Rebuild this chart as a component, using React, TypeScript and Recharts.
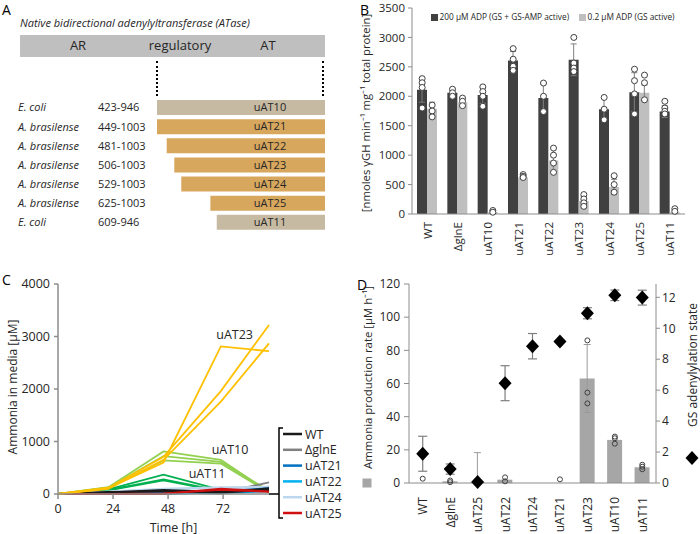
import React from "react";
import {
  BarChart,
  Bar,
  ComposedChart,
  LineChart,
  Line,
  XAxis,
  YAxis,
  ErrorBar,
  Cell,
  LabelList,
  Legend,
  ReferenceDot,
} from "recharts";

// ---------- A: truncated ATase constructs ----------
const constructs = ["uAT10", "uAT21", "uAT22", "uAT23", "uAT24", "uAT25", "uAT11"];
const hosts = ["E. coli", "A. brasilense", "A. brasilense", "A. brasilense", "A. brasilense", "A. brasilense", "E. coli"];
const resFrom = [423, 449, 481, 506, 529, 625, 609];
const resTo = [946, 1003, 1003, 1003, 1003, 1003, 946];
const domainsA = ["AR", "regulatory", "AT"];

// ---------- B: GS activity ----------
const strainsB = ["WT", "ΔglnE", "uAT10", "uAT21", "uAT22", "uAT23", "uAT24", "uAT25", "uAT11"];
const seriesB = ["200 µM ADP (GS + GS-AMP active)", "0.2 µM ADP (GS active)"];
const adp200 = [2110, 2060, 2020, 2610, 1970, 2620, 1780, 2070, 1740];
const adp200Err = [210, 50, 140, 150, 230, 270, 190, 330, 100];
const adp02 = [1790, 1900, 30, 620, 910, 220, 460, 2060, 30];
const adp02Err = [110, 70, 20, 20, 200, 80, 130, 130, 20];
const reps200 = [
  [2300, 2230, 2150, 1800],
  [2120, 2060, 2000],
  [2160, 2080, 2000, 1830],
  [2810, 2630, 2510, 2440],
  [2225, 2000, 1740],
  [3000, 2565, 2480, 2420],
  [1980, 1780, 1600],
  [2460, 2265, 2040, 1700],
  [1915, 1800, 1745, 1700],
];
const reps02 = [
  [1850, 1750, 1650],
  [1970, 1915, 1840],
  [60, 30],
  [670, 640, 620],
  [1120, 1000, 866, 708],
  [330, 255, 190, 130],
  [650, 500, 370],
  [2360, 2230, 1940],
  [90, 45],
];

// ---------- C: ammonia in media ----------
const timeH = [0, 22, 46, 71, 92];
const nh3WT = [[0, 30, 80, 40, 60], [0, 20, 60, 30, 110], [0, 40, 50, 20, 90]];
const nh3GlnE = [[0, 20, 40, 20, 220], [0, 30, 50, 40, 140], [0, 10, 30, 10, 130]];
const nh3AT21 = [[0, 20, 30, 50, 110], [0, 10, 20, 40, 80]];
const nh3AT22 = [[0, 10, 0, 30, 80], [0, 0, 10, 20, 50]];
const nh3AT24 = [[0, 50, 100, 130, 140], [0, 40, 90, 110, 120]];
const nh3AT25 = [[0, 0, 0, 100, 50], [0, 0, 10, 80, 40]];
const nh3AT11 = [[0, 90, 370, 80, 60], [0, 80, 280, 60, 90], [0, 70, 260, 50, 70]];
const nh3AT10 = [[0, 130, 810, 650, 40], [0, 120, 720, 610, 60], [0, 110, 640, 580, 30]];
const nh3AT23 = [[0, 110, 600, 2810, 2720], [0, 120, 710, 1960, 3220], [0, 100, 650, 1760, 2870]];
const legendC = ["WT", "ΔglnE", "uAT21", "uAT22", "uAT24", "uAT25"];

// ---------- D: production rate vs adenylylation ----------
const strainsD = ["WT", "ΔglnE", "uAT25", "uAT22", "uAT24", "uAT21", "uAT23", "uAT10", "uAT11"];
const nh3Rate = [0, 1, 0.3, 2, 0, 0, 63, 26, 9.5];
const nh3RateErr: any[] = [null, null, [0.3, 18], null, null, null, 20.5, null, null];
const nh3Reps = [[2.6], [0.5, 1.5], [], [1, 3.4], [], [2.2], [86, 54.5, 48], [28, 27, 23.7], [11, 9.8, 8.3]];
const adenState = [1.89, 0.9, 0.06, 6.45, 8.84, 9.14, 10.97, 12.13, 11.98];
const adenStateErr = [1.13, 0.33, null, 1.13, 0.82, null, 0.36, 0.34, 0.48];

const INK = "#262626";
const AXIS = "#8C8C8C";
const hostColor: Record<string, string> = { "E. coli": "#C6BAA2", "A. brasilense": "#D7A75E" };
const barColorsB = ["#404040", "#BFBFBF"];
const strainColor: Record<string, string> = {
  WT: "#1A1A1A",
  "ΔglnE": "#808080",
  uAT21: "#0070C0",
  uAT22: "#00B0F0",
  uAT24: "#BDD7EE",
  uAT25: "#D01010",
  uAT11: "#00B050",
  uAT10: "#92D050",
  uAT23: "#FFC000",
};
const seriesC: [string, number[][]][] = [
  ["uAT11", nh3AT11],
  ["uAT10", nh3AT10],
  ["ΔglnE", nh3GlnE],
  ["uAT24", nh3AT24],
  ["uAT21", nh3AT21],
  ["uAT22", nh3AT22],
  ["WT", nh3WT],
  ["uAT25", nh3AT25],
  ["uAT23", nh3AT23],
];

// ---------- rows ----------
const rowsA = constructs.map((name, i) => {
  const len = resTo[i] - resFrom[i];
  const ref = Math.max(...constructs.map((_, j) => (hosts[j] === hosts[i] ? resTo[j] - resFrom[j] : 0)));
  return { name, span: [1 - len / ref, 1] };
});

const rowsB = strainsB.map((name, i) => {
  const row: any = { name, hi: adp200[i], hiErr: adp200Err[i], lo: adp02[i], loErr: adp02Err[i] };
  reps200[i].forEach((v, k) => (row[`h${k}`] = v));
  reps02[i].forEach((v, k) => (row[`l${k}`] = v));
  return row;
});

const rowsC = timeH.map((t, ti) => {
  const row: any = { t };
  seriesC.forEach(([, reps], si) => reps.forEach((r, k) => (row[`s${si}r${k}`] = r[ti])));
  return row;
});

const rowsD = strainsD.map((name, i) => {
  const row: any = { name, rate: nh3Rate[i], rateErr: nh3RateErr[i], state: adenState[i], stateErr: adenStateErr[i] };
  nh3Reps[i].forEach((v, k) => (row[`r${k}`] = v));
  return row;
});

// ---------- small renderers ----------
const ok = (p: any) => typeof p.cy === "number" && !isNaN(p.cy) && p.value != null;

const repDot = (dx: number, r: number, fill: string) => (p: any) =>
  ok(p) ? (
    <circle key={`c${p.index}`} cx={p.cx + dx} cy={p.cy} r={r} fill={fill} stroke="#404040" strokeWidth={1} />
  ) : (
    <g key={`c${p.index}`} />
  );

const diamondDot = (p: any) =>
  ok(p) ? (
    <polygon
      key={`d${p.index}`}
      points={`${p.cx},${p.cy - 7} ${p.cx + 6.5},${p.cy} ${p.cx},${p.cy + 7} ${p.cx - 6.5},${p.cy}`}
      fill="#000"
    />
  ) : (
    <g key={`d${p.index}`} />
  );

function RotTick(props: any) {
  const { x, y, payload, size } = props;
  return (
    <text x={x} y={y} transform={`rotate(-90 ${x} ${y})`} textAnchor="end" dominantBaseline="central" fontSize={size} fill={INK}>
      {payload.value}
    </text>
  );
}

function ConstructTick(props: any) {
  const { y, payload } = props;
  const i = constructs.indexOf(payload.value);
  return (
    <g fontSize={11} fill={INK}>
      <text x={18} y={y} dy="0.35em" fontStyle="italic">{hosts[i]}</text>
      <text x={98} y={y} dy="0.35em">{`${resFrom[i]}-${resTo[i]}`}</text>
    </g>
  );
}

const vTitle = (text: string, dx: number, dy: number, size: number) => (props: any) => {
  const vb = props.viewBox;
  const x = vb.x + dx;
  const y = vb.y + vb.height / 2 + dy;
  return (
    <text x={x} y={y} transform={`rotate(-90 ${x} ${y})`} textAnchor="middle" dominantBaseline="central" fontSize={size} fill={INK}>
      {text}
    </text>
  );
};

function LegendB() {
  return (
    <div style={{ position: "relative", height: 12, fontSize: 8.3, color: INK, whiteSpace: "nowrap" }}>
      {seriesB.map((s, i) => (
        <React.Fragment key={s}>
          <span style={{ position: "absolute", left: 1 + i * 148, top: 2.5, width: 7, height: 7, background: barColorsB[i] }} />
          <span style={{ position: "absolute", left: 9.5 + i * 148, top: 0, lineHeight: "12px" }}>{s}</span>
        </React.Fragment>
      ))}
    </div>
  );
}

function LegendC() {
  return (
    <svg width={85} height={96} style={{ display: "block", overflow: "visible" }}>
      <line x1={4} y1={67} x2={14} y2={67} stroke="#000" strokeWidth={1.5} />
      <path d="M18,1 L14,1 L14,91 L18,91" fill="none" stroke="#000" strokeWidth={1.5} />
      {legendC.map((s, i) => (
        <g key={s}>
          <line x1={18} x2={37} y1={7 + i * 15.8} y2={7 + i * 15.8} stroke={strainColor[s]} strokeWidth={2.5} />
          <text x={40} y={7 + i * 15.8} dominantBaseline="central" fontSize={12.5} fill={INK}>{s}</text>
        </g>
      ))}
    </svg>
  );
}

const letter = (t: string, left: number, top: number) => (
  <div style={{ position: "absolute", left, top, fontSize: 14, lineHeight: 1, color: "#000" }}>{t}</div>
);

export default function App() {
  return (
    <div
      style={{
        position: "absolute",
        left: 0,
        top: 0,
        width: 700,
        height: 534,
        background: "#fff",
        fontFamily: '"Open Sans", sans-serif',
        color: INK,
        overflow: "hidden",
      }}
    >
      {letter("A", 2, 2.5)}
      {letter("B", 360, 2.5)}
      {letter("C", 2, 272.5)}
      {letter("D", 357, 277.5)}

      {/* Panel A */}
      <div style={{ position: "absolute", left: 20, top: 17, fontSize: 11, fontStyle: "italic", lineHeight: 1, whiteSpace: "nowrap" }}>
        Native bidirectional adenylyltransferase (ATase)
      </div>
      <div style={{ position: "absolute", left: 20, top: 35, width: 305, height: 22, background: "#BFBFBF" }} />
      {domainsA.map((d, i) => (
        <div
          key={d}
          style={{
            position: "absolute",
            left: [78, 180, 268][i],
            top: 39,
            transform: "translateX(-50%)",
            fontSize: 13,
            lineHeight: 1,
            whiteSpace: "nowrap",
          }}
        >
          {d}
        </div>
      ))}
      <div style={{ position: "absolute", left: 156, top: 61, height: 35, borderLeft: "2px dotted #000" }} />
      <div style={{ position: "absolute", left: 322, top: 61, height: 35, borderLeft: "2px dotted #000" }} />
      <div style={{ position: "absolute", left: 0, top: 98 }}>
        <BarChart layout="vertical" width={325} height={134} data={rowsA} margin={{ top: 0, right: 0, bottom: 0, left: 0 }} barSize={15}>
          <XAxis type="number" domain={[0, 1]} hide />
          <YAxis type="category" dataKey="name" width={157} axisLine={false} tickLine={false} interval={0} tick={(p: any) => <ConstructTick {...p} />} />
          <Bar dataKey="span" isAnimationActive={false}>
            {rowsA.map((r, i) => (
              <Cell key={r.name} fill={hostColor[hosts[i]]} />
            ))}
            <LabelList
              dataKey="name"
              content={(p: any) => (
                <text x={p.x + p.width - 55} y={p.y + p.height / 2} dy="0.35em" textAnchor="middle" fontSize={11} fill={INK}>
                  {p.value}
                </text>
              )}
            />
          </Bar>
        </BarChart>
      </div>

      {/* Panel B */}
      <div style={{ position: "absolute", left: 350, top: 0 }}>
        <ComposedChart width={350} height={270} data={rowsB} margin={{ top: 8, right: 15, bottom: 0, left: 0 }} barGap={0}>
          <XAxis
            dataKey="name"
            height={56}
            tickLine={false}
            interval={0}
            stroke={AXIS}
            tick={(p: any) => <RotTick {...p} size={11.5} />}
          />
          <YAxis
            width={62}
            domain={[0, 3500]}
            ticks={[0, 500, 1000, 1500, 2000, 2500, 3000, 3500]}
            tickSize={4}
            tickMargin={3}
            stroke={AXIS}
            tick={{ fontSize: 11.5, fill: INK }}
            label={{ content: vTitle("[nmoles γGH min⁻¹ mg⁻¹ total protein]", 15, 2, 11.3) }}
          />
          <Legend
            layout="vertical"
            align="center"
            verticalAlign="middle"
            wrapperStyle={{ left: 80, top: 11, width: 270 }}
            content={() => <LegendB />}
          />
          <Bar dataKey="hi" name={seriesB[0]} barSize={10} fill={barColorsB[0]} isAnimationActive={false}>
            <ErrorBar dataKey="hiErr" direction="y" width={3} stroke="#7F7F7F" strokeWidth={1} />
          </Bar>
          <Bar dataKey="lo" name={seriesB[1]} barSize={10} fill={barColorsB[1]} isAnimationActive={false}>
            <ErrorBar dataKey="loErr" direction="y" width={3} stroke="#7F7F7F" strokeWidth={1} />
          </Bar>
          {[0, 1, 2, 3].map((k) => (
            <Line key={`h${k}`} dataKey={`h${k}`} stroke="none" legendType="none" activeDot={false} dot={repDot(-5, 3, "#fff")} isAnimationActive={false} />
          ))}
          {[0, 1, 2, 3].map((k) => (
            <Line key={`l${k}`} dataKey={`l${k}`} stroke="none" legendType="none" activeDot={false} dot={repDot(5, 3, "#fff")} isAnimationActive={false} />
          ))}
        </ComposedChart>
      </div>

      {/* Panel C */}
      <div style={{ position: "absolute", left: 0, top: 270 }}>
        <LineChart width={350} height={264} data={rowsC} margin={{ top: 14, right: 81, bottom: 0, left: 0 }}>
          <XAxis
            dataKey="t"
            type="number"
            domain={[0, 92]}
            ticks={[0, 24, 48, 72]}
            height={40}
            tickSize={5}
            tickMargin={5}
            stroke={AXIS}
            strokeWidth={1.5}
            tick={{ fontSize: 12.5, fill: INK }}
            label={{
              content: (p: any) => (
                <text x={p.viewBox.x + p.viewBox.width / 2 + 10} y={p.viewBox.y + 33} textAnchor="middle" dominantBaseline="central" fontSize={12.5} fill={INK}>
                  Time [h]
                </text>
              ),
            }}
          />
          <YAxis
            width={58}
            domain={[0, 4000]}
            ticks={[0, 1000, 2000, 3000, 4000]}
            tickSize={4}
            tickMargin={4}
            stroke={AXIS}
            strokeWidth={1.5}
            tick={{ fontSize: 12.5, fill: INK }}
            label={{ content: vTitle("Ammonia in media [µM]", 12, -2, 12) }}
          />
          <Legend
            layout="vertical"
            align="center"
            verticalAlign="middle"
            wrapperStyle={{ left: 265, top: 157, width: 85 }}
            content={() => <LegendC />}
          />
          {seriesC.map(([name, reps], si) =>
            reps.map((_, k) => (
              <Line
                key={`s${si}r${k}`}
                dataKey={`s${si}r${k}`}
                name={name}
                stroke={strainColor[name]}
                strokeWidth={1.8}
                dot={false}
                activeDot={false}
                isAnimationActive={false}
              />
            ))
          )}
          <ReferenceDot x={77} y={3030} r={0} fill="none" stroke="none" label={{ value: "uAT23", position: "center", fontSize: 12.5, fill: INK }} />
          <ReferenceDot x={75} y={840} r={0} fill="none" stroke="none" label={{ value: "uAT10", position: "center", fontSize: 12.5, fill: INK }} />
          <ReferenceDot x={65} y={380} r={0} fill="none" stroke="none" label={{ value: "uAT11", position: "center", fontSize: 12.5, fill: INK }} />
        </LineChart>
      </div>

      {/* Panel D */}
      <div style={{ position: "absolute", left: 350, top: 270 }}>
        <ComposedChart width={350} height={264} data={rowsD} margin={{ top: 14, right: 0, bottom: 0, left: 0 }}>
          <XAxis
            dataKey="name"
            height={51}
            tickLine={false}
            tickMargin={8}
            interval={0}
            stroke={AXIS}
            tick={(p: any) => <RotTick {...p} size={12} />}
          />
          <YAxis
            yAxisId="left"
            width={59}
            domain={[0, 120]}
            ticks={[0, 20, 40, 60, 80, 100, 120]}
            tickSize={5}
            tickMargin={4}
            stroke={AXIS}
            tick={{ fontSize: 12, fill: INK }}
            label={{
              content: (p: any) => {
                const vb = p.viewBox;
                const bottom = vb.y + vb.height;
                return (
                  <g>
                    {vTitle("Ammonia production rate [µM h⁻¹]", 17, -6, 11.4)(p)}
                    <rect x={vb.x + 12.5} y={bottom - 4.5} width={9} height={9} fill="#A6A6A6" />
                  </g>
                );
              },
            }}
          />
          <YAxis
            yAxisId="right"
            orientation="right"
            width={44}
            domain={[0, 12.86]}
            ticks={[0, 2, 4, 6, 8, 10, 12]}
            tickSize={4}
            tickMargin={2}
            stroke={AXIS}
            tick={{ fontSize: 12, fill: INK }}
            label={{
              content: (p: any) => {
                const vb = p.viewBox;
                const cx = vb.x + 36;
                const cy = vb.y + vb.height - 25;
                return (
                  <g>
                    {vTitle("GS adenylylation state", 36, -18.5, 12)(p)}
                    <polygon points={`${cx},${cy - 7} ${cx + 6.5},${cy} ${cx},${cy + 7} ${cx - 6.5},${cy}`} fill="#000" />
                  </g>
                );
              },
            }}
          />
          <Bar yAxisId="left" dataKey="rate" barSize={15} fill="#A6A6A6" isAnimationActive={false}>
            <ErrorBar dataKey="rateErr" direction="y" width={3.5} stroke="#9A9A9A" strokeWidth={1} />
          </Bar>
          {[0, 1, 2].map((k) => (
            <Line key={`r${k}`} yAxisId="left" dataKey={`r${k}`} stroke="none" legendType="none" activeDot={false} dot={repDot(0, 2.5, "none")} isAnimationActive={false} />
          ))}
          <Line yAxisId="right" dataKey="state" stroke="none" legendType="none" activeDot={false} dot={diamondDot} isAnimationActive={false}>
            <ErrorBar dataKey="stateErr" direction="y" width={4.5} stroke="#7F7F7F" strokeWidth={1.2} />
          </Line>
        </ComposedChart>
      </div>
    </div>
  );
}
